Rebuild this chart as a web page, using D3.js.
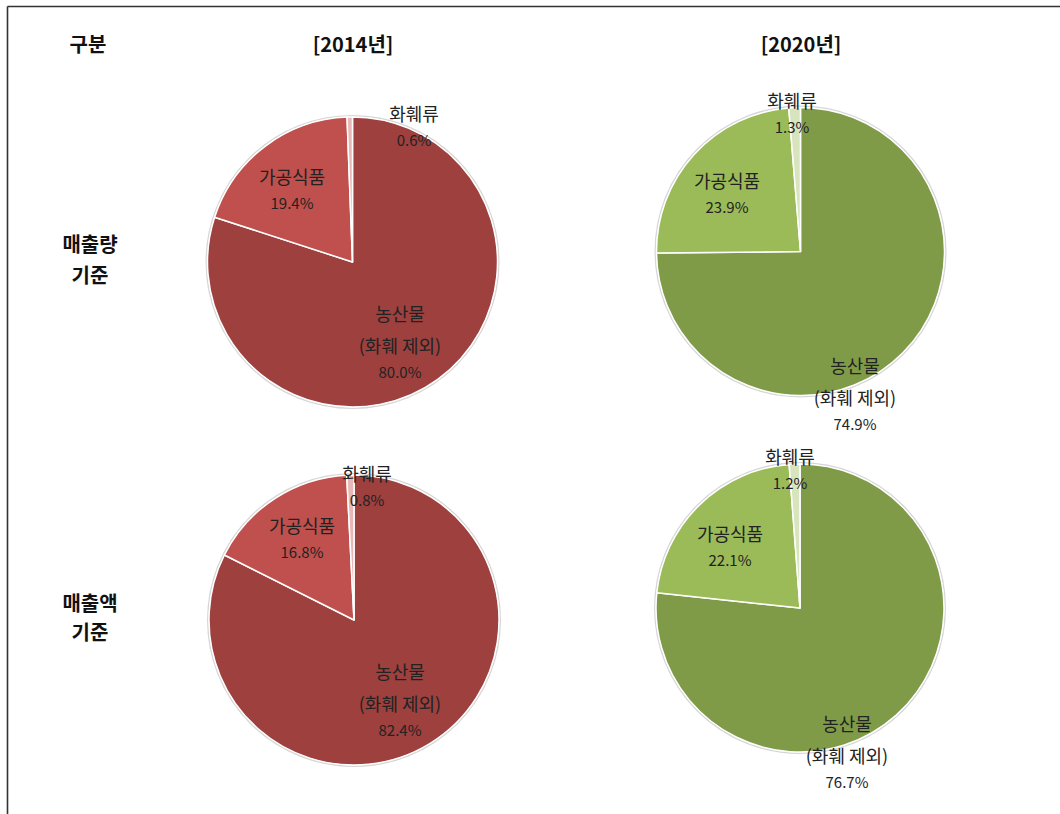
<!DOCTYPE html>
<html>
<head>
<meta charset="utf-8">
<script src="https://cdn.jsdelivr.net/npm/d3@7"></script>
<style>
  html, body { margin: 0; padding: 0; background: #fff; }
  svg { display: block; }
</style>
</head>
<body>
<svg id="chart" width="1060" height="814"></svg>
<script>
// ---------------- data ----------------
const categories = ["농산물", "가공식품", "화훼류"];
const categorySub = ["(화훼 제외)", "", ""];
const years = ["[2014년]", "[2020년]"];
const rowLabels = [["매출량", "기준"], ["매출액", "기준"]];
const cornerLabel = "구분";

const volume2014 = [80.0, 19.4, 0.6];
const volume2020 = [74.9, 23.9, 1.3];
const value2014 = [82.4, 16.8, 0.8];
const value2020 = [76.7, 22.1, 1.2];

const colors2014 = ["#9d403e", "#c0504d", "#e6b9b8"];
const colors2020 = ["#7f9b48", "#9bbb59", "#d7e4bd"];

// ---------------- layout ----------------
const panels = [
  { values: volume2014, colors: colors2014, cx: 352.5, cy: 262, r: 145,
    labels: [[400, 315], [292, 178], [414, 115]] },
  { values: volume2020, colors: colors2020, cx: 800.5, cy: 251.5, r: 144,
    labels: [[855, 367], [727, 182], [792, 102]] },
  { values: value2014, colors: colors2014, cx: 354, cy: 620, r: 145,
    labels: [[400, 673], [302, 527], [367, 475]] },
  { values: value2020, colors: colors2020, cx: 800, cy: 608, r: 144,
    labels: [[847, 725], [730, 535], [790, 458]] }
];

const svg = d3.select("#chart");
const FONT = "'Noto Sans CJK KR', 'Noto Sans', sans-serif";

// frame (top and left border)
svg.append("line").attr("x1", 7.5).attr("y1", 6.5).attr("x2", 1060).attr("y2", 6.5)
  .attr("stroke", "#333").attr("stroke-width", 1.6);
svg.append("line").attr("x1", 7.5).attr("y1", 6.5).attr("x2", 7.5).attr("y2", 814)
  .attr("stroke", "#333").attr("stroke-width", 1.6);

// headers
const hdr = svg.append("g").attr("font-family", FONT).attr("font-weight", "bold")
  .attr("font-size", 20).attr("fill", "#111").attr("text-anchor", "middle");
hdr.append("text").attr("x", 88).attr("y", 45).attr("dy", "0.35em").text(cornerLabel);
hdr.append("text").attr("x", 353).attr("y", 45).attr("dy", "0.35em").text(years[0]);
hdr.append("text").attr("x", 801).attr("y", 45).attr("dy", "0.35em").text(years[1]);

const rowY = [[245, 276], [604, 633]];
rowLabels.forEach((lines, i) => {
  lines.forEach((t, j) => {
    hdr.append("text").attr("x", 90).attr("y", rowY[i][j]).attr("dy", "0.35em").text(t);
  });
});

// pies
const pie = d3.pie().sort(null).value(d => d);
const fmt = d3.format(".1f");

panels.forEach(p => {
  const g = svg.append("g").attr("transform", `translate(${p.cx},${p.cy})`);
  const arc = d3.arc().innerRadius(0).outerRadius(p.r);

  // soft edge
  g.append("circle").attr("r", p.r + 1.2).attr("fill", "none")
    .attr("stroke", "#d6d6d6").attr("stroke-width", 1.6);

  g.selectAll("path").data(pie(p.values)).join("path")
    .attr("d", arc)
    .attr("fill", (d, i) => p.colors[i])
    .attr("stroke", "#fff").attr("stroke-width", 1.5).attr("stroke-linejoin", "round");

  const lg = svg.append("g").attr("font-family", FONT).attr("fill", "#222")
    .attr("text-anchor", "middle");
  p.values.forEach((v, i) => {
    const [lx, ly] = p.labels[i];
    let y = ly;
    lg.append("text").attr("x", lx).attr("y", y).attr("dy", "0.35em")
      .attr("font-size", 18).text(categories[i]);
    if (categorySub[i]) {
      y += 32;
      lg.append("text").attr("x", lx).attr("y", y).attr("dy", "0.35em")
        .attr("font-size", 18).text(categorySub[i]);
      y += 26;
    } else {
      y += 26;
    }
    lg.append("text").attr("x", lx).attr("y", y).attr("dy", "0.35em")
      .attr("font-size", 15).text(fmt(v) + "%");
  });
});
</script>
</body>
</html>
